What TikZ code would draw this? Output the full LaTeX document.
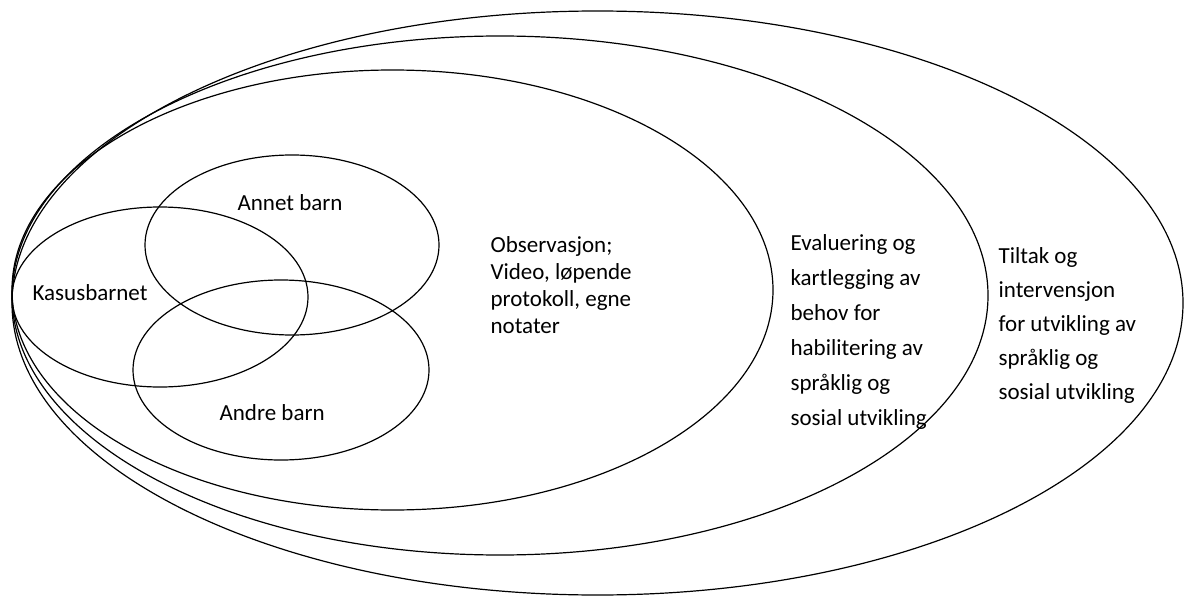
\documentclass[tikz,border=0pt]{standalone}
\usepackage{fontspec}
\setmainfont{Carlito}
\begin{document}
\begin{tikzpicture}[x = 1pt, y = -1pt, line width = 1.2pt,
        lbl/.style = {anchor = base west, inner sep = 0pt, align = left, font = \fontsize{23}{27}\selectfont},
        wide/.style = {lbl, font = \fontsize{23}{35}\selectfont}]
            \useasboundingbox (0,0) rectangle (1185,596);
            % outer rings
            \draw (597.5,303) ellipse [x radius = 585.5, y radius = 292];
            \draw (500,295.5) ellipse [x radius = 488, y radius = 259.5];
            \draw (392.5,290) ellipse [x radius = 380.5, y radius = 220];
            % the three children
            \draw (160,297) ellipse [x radius = 148, y radius = 90];
            \draw (292,245) ellipse [x radius = 147, y radius = 90];
            \draw (281,370) ellipse [x radius = 148, y radius = 90];
            \node[lbl] (kasus) at (32,300) {Kasusbarnet};
            \node[lbl] (annet) at (237,211) {Annet barn};
            \node[lbl] (andre) at (219,420) {Andre barn};
            % multi-line nodes sit on the baseline of their last line
            \node[lbl] (obs) at (490,333) {Observasjon;\\Video, løpende\\protokoll, egne\\notater};
            \node[wide] (eval) at (790,425) {Evaluering og\\kartlegging av\\behov for\\habilitering av\\språklig og\\sosial utvikling};
            \node[wide, font = \fontsize{23}{34}\selectfont] (tiltak) at (998,399) {Tiltak og\\intervensjon\\for utvikling av\\språklig og\\sosial utvikling};
        \end{tikzpicture}
\end{document}
